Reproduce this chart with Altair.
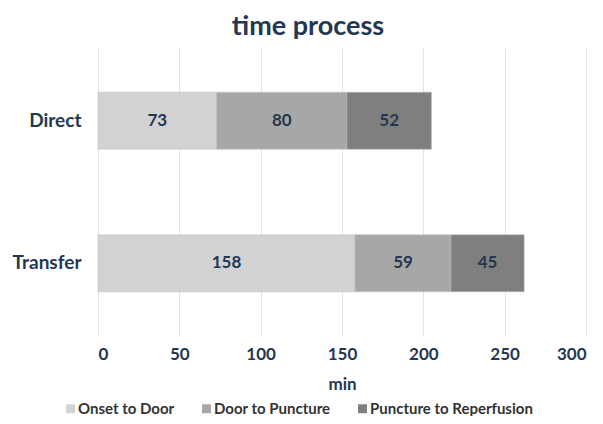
import altair as alt
import pandas as pd

groups = ["Direct", "Direct", "Direct", "Transfer", "Transfer", "Transfer"]
phases = ["Onset to Door", "Door to Puncture", "Puncture to Reperfusion"] * 2
values = [73, 80, 52, 158, 59, 45]
phase_order = [0, 1, 2, 0, 1, 2]

phase_domain = ["Onset to Door", "Door to Puncture", "Puncture to Reperfusion"]
phase_colors = ["#d2d2d2", "#a7a7a7", "#7f7f7f"]

df = pd.DataFrame({"group": groups, "phase": phases, "value": values, "ord": phase_order})

font = "Lato"
navy = "#243752"

base = alt.Chart(df).transform_window(
    cum="sum(value)", groupby=["group"], sort=[alt.SortField("ord")]
).transform_calculate(
    start="datum.cum - datum.value", mid="datum.cum - datum.value / 2"
)

yenc = alt.Y(
    "group:N",
    sort=["Direct", "Transfer"],
    scale=alt.Scale(paddingInner=0.6, paddingOuter=0.31),
    axis=alt.Axis(
        title=None, domain=False, ticks=False, grid=False,
        labelFont=font, labelFontSize=19, labelFontWeight="bold",
        labelColor=navy, labelPadding=17,
    ),
)

bars = base.mark_bar(stroke="#bdbdbd", strokeWidth=0.5).encode(
    x=alt.X(
        "start:Q",
        scale=alt.Scale(domain=[0, 300]),
        axis=alt.Axis(
            values=[0, 50, 100, 150, 200, 250, 300],
            title="min", titleFont=font, titleFontSize=17, titleFontWeight="bold",
            titleColor=navy, titlePadding=14,
            labelFont=font, labelFontSize=17, labelFontWeight="bold",
            labelColor=navy, labelPadding=10,
            domain=False, ticks=False, grid=True, gridColor="#e4e4e4",
        ),
    ),
    x2="cum:Q",
    y=yenc,
    color=alt.Color(
        "phase:N",
        scale=alt.Scale(domain=phase_domain, range=phase_colors),
        legend=alt.Legend(
            title=None, orient="none", direction="horizontal",
            legendX=-35, legendY=353,
            symbolType="square", symbolSize=80, symbolStrokeWidth=0,
            labelFont=font, labelFontSize=15, labelFontWeight="bold",
            labelColor="#333333", columnPadding=24, labelOffset=0,
            labelLimit=400,
        ),
        sort=phase_domain,
    ),
)

labels = base.mark_text(
    font=font, fontSize=17, fontWeight="bold", color=navy
).encode(
    x="mid:Q",
    y=alt.Y("group:N", sort=["Direct", "Transfer"]),
    text="value:Q",
)

chart = (bars + labels).properties(
    width=488,
    height=288,
    autosize=alt.AutoSizeParams(type="none"),
    padding={"left": 90, "top": 40, "right": 9, "bottom": 80},
    title=alt.TitleParams(
        "time process", font=font, fontSize=27, fontWeight="bold",
        color=navy, offset=7, anchor="middle", frame="group", dx=-34,
    ),
).configure_view(stroke=None)

chart.save("out.html", embed_options={"renderer": "svg", "actions": False})
